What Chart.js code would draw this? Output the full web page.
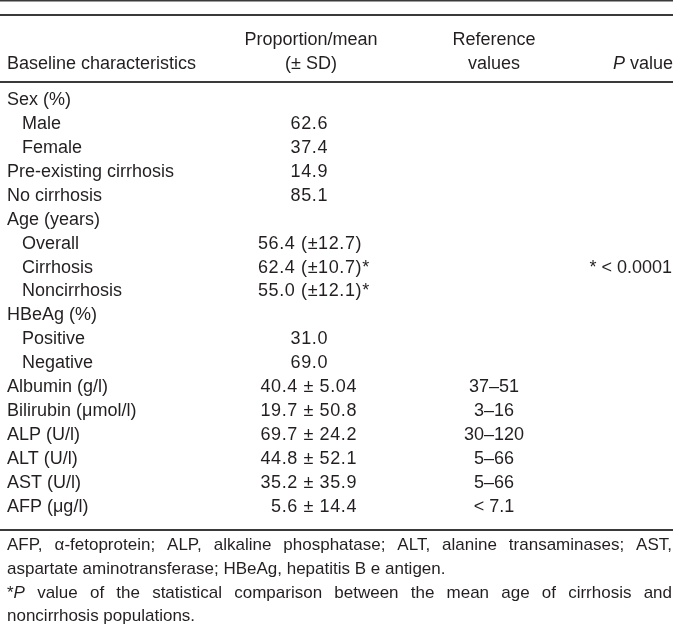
<!DOCTYPE html>
<html>
<head>
<meta charset="utf-8">
<script src="https://cdn.jsdelivr.net/npm/chart.js"></script>
<style>
body{margin:0;background:#fff}
canvas{display:block}
</style>
</head>
<body>
<canvas id="table" width="677" height="633"></canvas>
<script>

const characteristics=["Sex (%)","Male","Female","Pre-existing cirrhosis","No cirrhosis","Age (years)","Overall","Cirrhosis","Noncirrhosis","HBeAg (%)","Positive","Negative","Albumin (g/l)","Bilirubin (μmol/l)","ALP (U/l)","ALT (U/l)","AST (U/l)","AFP (μg/l)"]
const subRows=["Male","Female","Overall","Cirrhosis","Noncirrhosis","Positive","Negative"]
const proportionMean=["","62.6","37.4","14.9","85.1","","56.4 (±12.7)","62.4 (±10.7)*","55.0 (±12.1)*","","31.0","69.0","40.4 ± 5.04","19.7 ± 50.8","69.7 ± 24.2","44.8 ± 52.1","35.2 ± 35.9","5.6 ± 14.4"]
const referenceValues=["","","","","","","","","","","","","37–51","3–16","30–120","5–66","5–66","< 7.1"]
const pValues=["","","","","","","","* < 0.0001","","","","","","","","","",""]

const headers=[
["Baseline characteristics"],
["Proportion/mean","(± SD)"],
["Reference","values"],
["_P_ value"]
]

const footnote=[
"AFP, α-fetoprotein; ALP, alkaline phosphatase; ALT, alanine transaminases; AST,",
"aspartate aminotransferase; HBeAg, hepatitis B e antigen.",
"*_P_ value of the statistical comparison between the mean age of cirrhosis and",
"noncirrhosis populations."
]

const INK="#231f20"
let size=18

function font(italic){
return (italic?"italic ":"")+size+"px 'Liberation Sans', Arial, Helvetica, sans-serif"
}

function runs(text){
return text.split("_").map((t,i)=>({t:t,italic:i%2==1}))
}

function richWidth(ctx,text){
let w=0
runs(text).forEach(p=>{ctx.font=font(p.italic);w+=ctx.measureText(p.t).width})
return w
}

function drawRich(ctx,x,y,text,align){
let w=richWidth(ctx,text)
let cx=align=="left"?x:align=="right"?x-w:x-w/2
runs(text).forEach(p=>{
ctx.font=font(p.italic)
ctx.fillText(p.t,cx,y)
cx+=ctx.measureText(p.t).width
})
}

function drawLine(ctx,x0,x1,y,text,justify){
let words=text.split(" ")
let widths=words.map(w=>richWidth(ctx,w))
let total=widths.reduce((a,b)=>a+b,0)
ctx.font=font(false)
let gap=ctx.measureText(" ").width
if(justify) gap=(x1-x0-total)/(words.length-1)
let cx=x0
words.forEach((w,i)=>{drawRich(ctx,cx,y,w,"left");cx+=widths[i]+gap})
}

function rule(ctx,y,w){
ctx.fillStyle="#3a3a3a"
ctx.fillRect(0,y,673,w)
}

// column anchors on the x scale
function propCell(text){
if(text.indexOf("(")>=0) return {x:258,align:"left"}
if(text.indexOf("±")>=0) return {x:357,align:"right"}
return {x:328,align:"right"}
}

function cells(values,place){
let out=[]
values.forEach((v,i)=>{
if(v==="") return
let p=place(v,i)
out.push({x:p.x,y:i,text:v,align:p.align})
})
return out
}

const tableText={
id:"tableText",
beforeDraw(chart){
let ctx=chart.ctx
ctx.save()
rule(ctx,0,1.5)
rule(ctx,14,2)
rule(ctx,81,2)
rule(ctx,529,2)
ctx.fillStyle=INK
ctx.textBaseline="middle"
size=18
drawRich(ctx,7,64,headers[0][0],"left")
drawRich(ctx,311,40,headers[1][0],"center")
drawRich(ctx,311,64,headers[1][1],"center")
drawRich(ctx,494,40,headers[2][0],"center")
drawRich(ctx,494,64,headers[2][1],"center")
drawRich(ctx,673,64,headers[3][0],"right")
size=17
let ys=[545,569,593,616]
footnote.forEach((t,i)=>drawLine(ctx,7,672,ys[i],t,i==0||i==2))
size=18
ctx.restore()
},
afterDatasetsDraw(chart){
let ctx=chart.ctx
ctx.save()
ctx.fillStyle=INK
ctx.textBaseline="middle"
chart.data.datasets.forEach((ds,i)=>{
let meta=chart.getDatasetMeta(i)
ctx.letterSpacing=i==1?"0.6px":"0px"
meta.data.forEach((el,j)=>{
let c=ds.data[j]
drawRich(ctx,el.x,el.y,c.text,c.align)
})
})
ctx.restore()
}
}

new Chart(document.getElementById("table"),{
type:"scatter",
data:{
datasets:[
{label:"Baseline characteristics",data:cells(characteristics,v=>({x:subRows.includes(v)?22:7,align:"left"}))},
{label:"Proportion/mean",data:cells(proportionMean,propCell)},
{label:"Reference values",data:cells(referenceValues,()=>({x:494,align:"center"}))},
{label:"P value",data:cells(pValues,()=>({x:672,align:"right"}))}
]
},
options:{
responsive:false,
animation:false,
events:[],
layout:{padding:{top:88,bottom:114,left:0,right:0}},
elements:{point:{radius:0,hoverRadius:0}},
scales:{
x:{type:"linear",min:0,max:677,display:false},
y:{type:"linear",min:-0.5,max:17.5,reverse:true,display:false}
},
plugins:{legend:{display:false},tooltip:{enabled:false}}
},
plugins:[tableText]
})

</script>
</body>
</html>
